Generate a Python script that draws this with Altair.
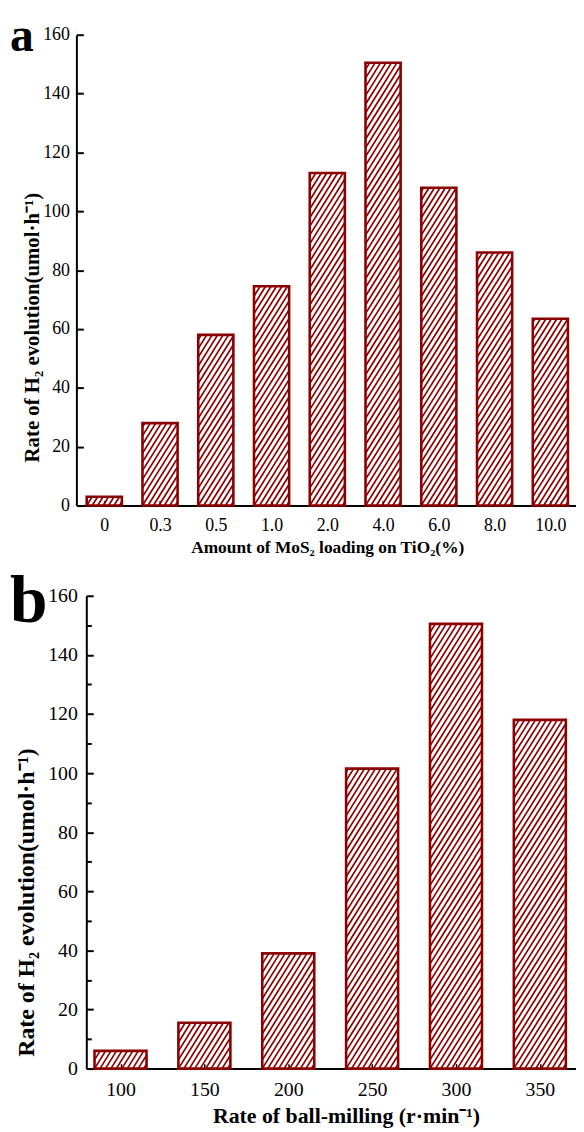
import math
import altair as alt
import pandas as pd

# ---------------- data ----------------
a_labels = ["0", "0.3", "0.5", "1.0", "2.0", "4.0", "6.0", "8.0", "10.0"]
a_values = [3, 28, 58, 74.5, 113, 150.5, 108, 86, 63.5]

b_labels = ["100", "150", "200", "250", "300", "350"]
b_values = [6, 15.5, 39, 101.5, 150.5, 118]

y_major = [0, 20, 40, 60, 80, 100, 120, 140, 160]
y_minor = [10, 30, 50, 70, 90, 110, 130, 150]

RED = "#8b0000"
FONT = "Liberation Serif"


def hatch_rows(values, half, sx, sy, spacing=5.5, slope=1.6):
    """Diagonal hatch segments inside each bar, in data units."""
    rows = []
    bw = 2 * half * sx
    for i, v in enumerate(values):
        h = v * sy
        xl = i - half
        c = -math.ceil(h / slope / spacing) * spacing
        while c < bw:
            if c >= 0:
                x0, y0 = c, 0.0
            else:
                x0, y0 = 0.0, -c * slope
            yr = (bw - c) * slope
            if yr <= h:
                x1, y1 = bw, yr
            else:
                x1, y1 = c + h / slope, h
            if y1 > y0 and y0 < h:
                rows.append(dict(x=xl + x0 / sx, x2=xl + x1 / sx,
                                 y=y0 / sy, y2=y1 / sy))
            c += spacing
    return pd.DataFrame(rows)


def panel(labels, values, letter, W, H, x0px, step, half, dmin,
          fs_tick, fs_xtitle, fs_ytitle, fs_letter, letter_y, xtitle, ytitle,
          ytx, yty, xtx, xty, lpx, lpy, minor):
    n = len(labels)
    dmax = dmin + (W - x0px) / step
    xs = alt.Scale(domain=[dmin, dmax], range=[x0px, W], nice=False, zero=False)
    ys = alt.Scale(domain=[0, 160], nice=False, zero=True)
    sy = H / 160.0
    bars = pd.DataFrame({
        "i": list(range(n)),
        "lo": [i - half for i in range(n)],
        "hi": [i + half for i in range(n)],
        "v": values,
        "base": [0] * n,
    })
    label_expr = "[" + ",".join("'%s'" % l for l in labels) + "][round(datum.value)]"
    hatch = hatch_rows(values, half, step, sy)

    hatch_layer = alt.Chart(hatch).mark_rule(color=RED, strokeWidth=1.7).encode(
        x=alt.X("x:Q", scale=xs, axis=alt.Axis(
            orient="bottom", values=list(range(n)), labelExpr=label_expr,
            ticks=False, domain=True, domainColor="black", domainWidth=2,
            grid=False,
            labelFont=FONT, labelFontSize=fs_tick, labelColor="black",
            labelPadding=lpx, labelFlush=False, labelOverlap=False,
            title=xtitle, titleFont=FONT, titleFontSize=fs_xtitle,
            titleFontWeight="bold", titleColor="black", titleX=xtx, titleY=xty,
            titleBaseline="alphabetic", titleAlign="center")),
        x2="x2:Q",
        y=alt.Y("y:Q", scale=ys, axis=alt.Axis(
            orient="left", values=y_major, ticks=False, domain=True,
            domainColor="black", domainWidth=2, offset=-x0px, grid=False,
            labelFont=FONT, labelFontSize=fs_tick, labelColor="black",
            labelPadding=lpy, labelFlush=False, labelOverlap=False,
            title=ytitle, titleFont=FONT, titleFontSize=fs_ytitle,
            titleFontWeight="bold", titleColor="black", titleAngle=270,
            titleX=ytx, titleY=yty, titleAlign="center", titleBaseline="middle")),
        y2="y2:Q",
    )

    outline = alt.Chart(bars).mark_bar(
        fill="white", fillOpacity=0, stroke=RED, strokeWidth=2.6
    ).encode(
        x=alt.X("lo:Q", scale=xs, axis=alt.Axis(
            orient="top", offset=-H, values=list(range(n)), labels=False,
            domain=False, ticks=True, tickSize=5, tickWidth=1.5, grid=False,
            tickColor="black", title=None)),
        x2="hi:Q",
        y=alt.Y("v:Q", scale=ys, axis=alt.Axis(
            orient="right", offset=-(W - x0px), values=y_major, labels=False,
            domain=False, ticks=True, tickSize=7, tickWidth=2, grid=False,
            tickColor="black", title=None)),
        y2="base:Q",
    )

    layers = [hatch_layer, outline]

    if minor:
        minor_layer = alt.Chart(bars).mark_bar(opacity=0).encode(
            x=alt.X("lo:Q", scale=xs, axis=None),
            x2="hi:Q",
            y=alt.Y("v:Q", scale=ys, axis=alt.Axis(
                orient="right", offset=-(W - x0px), values=y_minor,
                labels=False, domain=False, ticks=True, tickSize=5, grid=False,
                tickWidth=2, tickColor="black", title=None)),
            y2="base:Q",
        )
        layers.append(minor_layer)

    letter_layer = alt.Chart(pd.DataFrame({"t": [letter]})).mark_text(
        font=FONT, fontSize=fs_letter, fontWeight="bold", align="left",
        baseline="alphabetic", color="black"
    ).encode(text="t:N", x=alt.value(-67), y=alt.value(letter_y))
    layers.append(letter_layer)

    return alt.layer(*layers).resolve_axis(x="independent", y="independent").properties(
        width=W, height=H)


pa = panel(a_labels, a_values, "a", W=504, H=475, x0px=0, step=56.25,
           half=0.315, dmin=-0.5, fs_tick=18, fs_xtitle=17.5, fs_ytitle=21,
           fs_letter=48, letter_y=16,
           xtitle="Amount of MoS₂ loading on TiO₂(%)",
           ytitle="Rate of H₂ evolution(umol·h⁻¹)",
           ytx=-44, yty=295, xtx=253, xty=47, lpx=11, lpy=7, minor=False)

pb = panel(b_labels, b_values, "b", W=504, H=477, x0px=10, step=84.6,
           half=0.31, dmin=-0.408, fs_tick=20, fs_xtitle=22, fs_ytitle=24,
           fs_letter=68, letter_y=26,
           xtitle="Rate of ball-milling (r·min⁻¹)",
           ytitle="Rate of H₂ evolution(umol·h⁻¹)",
           ytx=-60, yty=309, xtx=272, xty=54, lpx=11, lpy=9, minor=True)

chart = alt.vconcat(pa, pb, spacing=91, bounds="flush").properties(
    padding={"left": 2, "top": 0, "right": 0, "bottom": 0},
    background="white",
).configure_view(strokeWidth=0).configure_axis(grid=False)

chart.save("out.html", embed_options={"renderer": "svg", "actions": False})
